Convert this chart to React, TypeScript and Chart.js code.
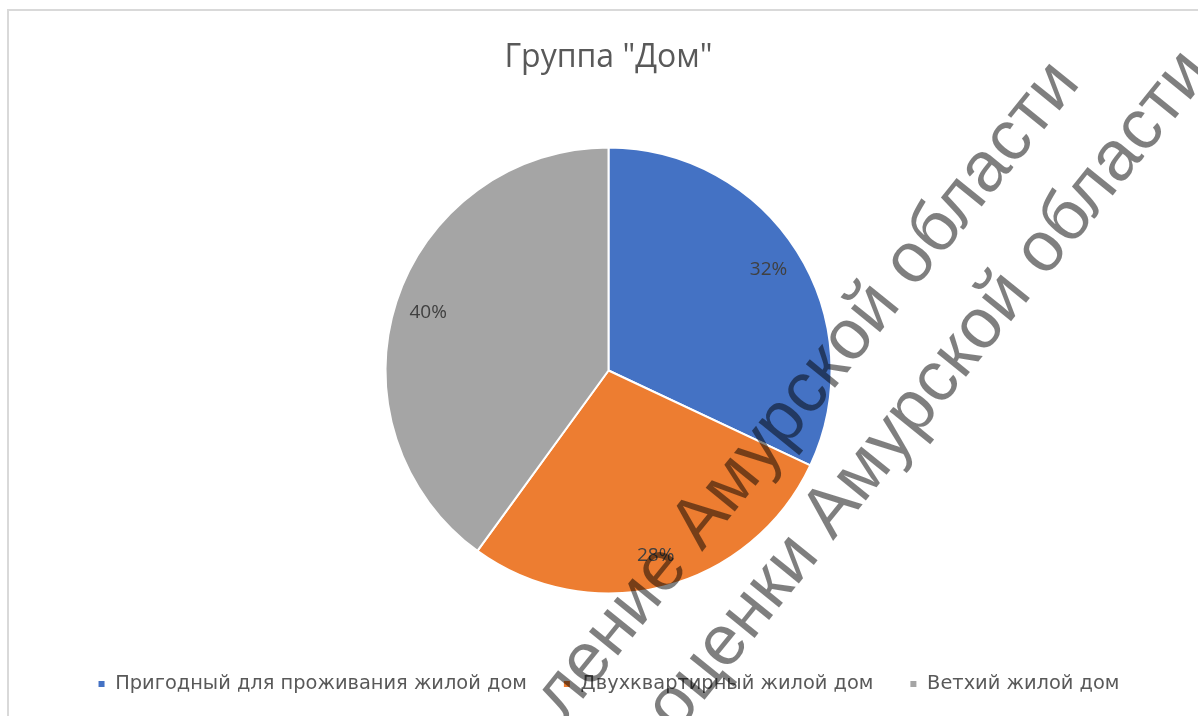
import React, { useEffect, useRef } from "react";
import { Chart, registerables } from "chart.js";

Chart.register(...registerables);

const titleText = 'Группа "Дом"';
const categories = [
  "Пригодный для проживания жилой дом",
  "Двухквартирный жилой дом",
  "Ветхий жилой дом",
];
const shares = [32, 28, 40];
const sliceColors = ["#4472C4", "#ED7D31", "#A5A5A5"];
const watermarkLines = [
  { prefix: "ление ", text: "ление Амурской области" },
  { prefix: "оценки ", text: "оценки Амурской области" },
];

const labelPlugin = {
  id: "sliceLabels",
  afterDatasetsDraw(chart: any) {
    const ctx = chart.ctx;
    const meta = chart.getDatasetMeta(0);
    const data = chart.data.datasets[0].data as number[];
    const total = data.reduce((a, b) => a + b, 0);
    ctx.save();
    ctx.font = "19px 'Open Sans'";
    ctx.fillStyle = "#404040";
    ctx.textAlign = "center";
    ctx.textBaseline = "middle";
    meta.data.forEach((arc: any, i: number) => {
      const p = arc.getProps(["x", "y", "startAngle", "endAngle", "outerRadius"], true);
      const mid = (p.startAngle + p.endAngle) / 2;
      const r = p.outerRadius * 0.85;
      const pct = Math.round((data[i] / total) * 100) + "%";
      ctx.fillText(pct, p.x + Math.cos(mid) * r, p.y + Math.sin(mid) * r + 1);
    });
    ctx.restore();
  },
};

const framePlugin = {
  id: "frame",
  beforeDraw(chart: any) {
    const ctx = chart.ctx;
    ctx.save();
    ctx.fillStyle = "#ffffff";
    ctx.fillRect(0, 0, chart.width, chart.height);
    ctx.strokeStyle = "#d9d9d9";
    ctx.lineWidth = 2;
    ctx.beginPath();
    ctx.moveTo(8, chart.height);
    ctx.lineTo(8, 10);
    ctx.lineTo(chart.width, 10);
    ctx.stroke();
    ctx.restore();
  },
};

const watermarkPlugin = {
  id: "watermark",
  afterDraw(chart: any) {
    const ctx = chart.ctx;
    const anchors = [
      { x: 702, y: 552 },
      { x: 833, y: 541 },
    ];
    ctx.save();
    ctx.font = "71px 'Liberation Sans'";
    ctx.fillStyle = "rgba(0,0,0,0.5)";
    ctx.textAlign = "left";
    ctx.textBaseline = "alphabetic";
    watermarkLines.forEach((w, i) => {
      ctx.save();
      ctx.translate(anchors[i].x, anchors[i].y);
      ctx.rotate((-51 * Math.PI) / 180);
      const off = ctx.measureText(w.prefix).width;
      ctx.fillText(w.text, -off, 0);
      ctx.restore();
    });
    ctx.restore();
  },
};

export default function App() {
  const ref = useRef<HTMLCanvasElement>(null);
  useEffect(() => {
    if (!ref.current) return;
    const chart = new Chart(ref.current, {
      type: "pie",
      data: {
        labels: categories,
        datasets: [
          {
            data: shares,
            backgroundColor: sliceColors,
            borderColor: "#ffffff",
            borderWidth: 2,
          },
        ],
      },
      options: {
        responsive: false,
        animation: false,
        radius: 223,
        layout: { padding: { left: 19, right: 0, top: 0, bottom: 12.3 } },
        plugins: {
          tooltip: { enabled: false },
          title: {
            display: true,
            text: titleText,
            color: "#595959",
            font: { family: "'Open Sans'", size: 32, weight: "normal" },
            padding: { top: 38.8, bottom: 25.5 },
          },
          legend: {
            position: "bottom",
            labels: {
              color: "#595959",
              font: { family: "'DejaVu Sans'", size: 19.4 },
              boxWidth: 8,
              boxHeight: 8,
              padding: 36,
            },
          },
        },
      },
      plugins: [framePlugin, labelPlugin, watermarkPlugin],
    });
    return () => chart.destroy();
  }, []);
  return (
    <canvas
      ref={ref}
      width={1198}
      height={716}
      style={{ position: "fixed", left: 0, top: 0 }}
    />
  );
}
